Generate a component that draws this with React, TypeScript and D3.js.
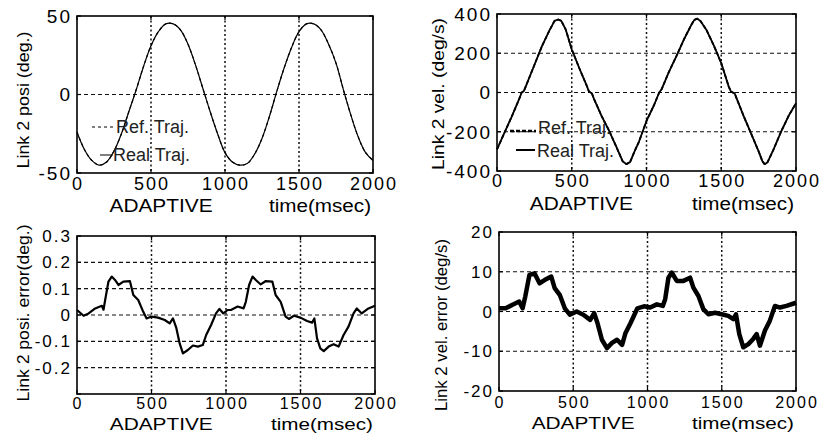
import React, { useEffect, useRef } from "react";
import * as d3 from "d3";

// time axis (msec)
const timeTicks = [0, 500, 1000, 1500, 2000];
const timeGrid = [500, 1000, 1500];

// link 2 position (deg.), [t, value]
const posTraj = [
  [0, -24], [50, -35], [100, -42], [150, -45], [200, -43], [250, -36], [300, -25], [350, -11],
  [400, 3], [450, 18], [500, 31], [550, 40], [600, 45], [650, 45], [700, 41], [750, 32],
  [800, 19], [850, 4], [900, -11], [950, -25], [1000, -37], [1050, -43], [1100, -45], [1150, -44],
  [1200, -38], [1250, -28], [1300, -14], [1350, 2], [1400, 17], [1450, 30], [1500, 40], [1550, 45],
  [1600, 45], [1650, 41], [1700, 32], [1750, 20], [1800, 3], [1850, -13], [1900, -27], [1950, -37],
  [2000, -42]
];

// link 2 velocity (deg/s)
const velTraj = [
  [0, -290], [50, -205], [100, -120], [150, -30], [165, 0], [180, 8], [200, 45], [250, 140],
  [300, 235], [350, 315], [385, 365], [410, 372], [430, 365], [460, 320], [500, 220], [550, 125],
  [600, 35], [615, 5], [635, -5], [650, -35], [700, -120], [750, -195], [800, -280], [840, -350],
  [865, -365], [890, -355], [920, -300], [950, -250], [1000, -145], [1050, -65], [1085, 0], [1100, 15],
  [1150, 105], [1200, 185], [1250, 270], [1300, 345], [1320, 370], [1340, 376], [1360, 365], [1400, 320],
  [1450, 240], [1500, 150], [1550, 30], [1565, 5], [1590, -5], [1600, -25], [1650, -120], [1700, -210],
  [1750, -300], [1775, -350], [1790, -365], [1810, -355], [1850, -290], [1900, -200], [1950, -120], [2000, -55]
];

// link 2 position error (deg.)
const posErr = [
  [0, 0.019], [44, -0.003], [78, 0.006], [122, 0.025], [167, 0.035], [178, 0.02], [189, 0.057], [211, 0.127],
  [233, 0.146], [255, 0.133], [278, 0.114], [311, 0.127], [355, 0.129], [378, 0.076], [411, 0.057], [444, 0.013],
  [467, -0.013], [500, -0.006], [544, -0.01], [589, -0.019], [622, -0.032], [644, -0.013], [667, -0.05], [689, -0.108],
  [711, -0.146], [744, -0.133], [778, -0.116], [811, -0.12], [844, -0.114], [867, -0.076], [900, -0.038], [933, 0.006],
  [956, 0.023], [982, 0.006], [1011, 0.019], [1033, 0.019], [1078, 0.032], [1118, 0.025], [1133, 0.05], [1155, 0.114],
  [1178, 0.146], [1200, 0.133], [1233, 0.116], [1267, 0.129], [1311, 0.127], [1333, 0.076], [1367, 0.05], [1400, -0.006],
  [1422, -0.015], [1456, -0.003], [1500, -0.01], [1544, -0.023], [1578, -0.029], [1593, -0.013], [1611, -0.089], [1633, -0.127],
  [1656, -0.137], [1689, -0.12], [1722, -0.111], [1756, -0.12], [1789, -0.076], [1822, -0.044], [1856, 0.006], [1878, 0.025],
  [1911, 0.006], [1956, 0.025], [2000, 0.035]
];

// link 2 velocity error (deg/s)
const velErr = [
  [0, 0.8], [45, 0.8], [91, 1.7], [136, 2.5], [159, 0.8], [177, 3.8], [205, 9.2], [239, 9.6],
  [273, 7.1], [307, 7.9], [352, 8.8], [375, 5.9], [409, 4.2], [443, 0.8], [477, -0.8], [523, 0],
  [568, -0.8], [614, -2.1], [641, -0.4], [663, -2.9], [693, -7.1], [727, -9.2], [761, -7.9], [795, -7.1],
  [829, -8.4], [852, -5.4], [886, -2.9], [932, 0.8], [977, 1.3], [1018, 1], [1063, 1.8], [1103, 1.4],
  [1119, 3.1], [1141, 8.5], [1164, 9.8], [1197, 7.7], [1242, 7.7], [1287, 8.5], [1309, 6], [1343, 3.9],
  [1376, 0.6], [1410, -0.7], [1455, -0.3], [1500, -0.7], [1544, -1.1], [1578, -1.9], [1596, -0.7], [1618, -5.7],
  [1645, -9], [1679, -8.2], [1712, -6.9], [1735, -5.7], [1757, -8.6], [1791, -4.8], [1824, -2.3], [1858, 1.4],
  [1892, 1], [1936, 1.4], [2000, 2.2]
];

const posTicks = [50, 0, -50];
const posTickLabels = ["50", "0", "-50"];
const velTicks = [400, 200, 0, -200, -400];
const velTickLabels = ["400", "200", "0", "-200", "-400"];
const posErrTicks = [0.3, 0.2, 0.1, 0, -0.1, -0.2, -0.3];
const posErrTickLabels = ["0.3", "0.2", "0.1", "0", "-0.1", "-0.2", ""];
const velErrTicks = [20, 10, 0, -10, -20];
const velErrTickLabels = ["20", "10", "0", "-10", "-20"];

const TICK_FONT = "'Liberation Sans', Arial, Helvetica, sans-serif";
const NARROW_FONT = "'Liberation Sans Narrow', 'Liberation Sans', Arial, sans-serif";

const panels = [
  {
    left: 77, right: 373, top: 16, bottom: 173, tickY: 190, labelY: 212, tickSize: 18, labelSize: 18,
    yDomain: [-50, 50], yTicks: posTicks, yTickLabels: posTickLabels, yGrid: [0],
    yLabel: "Link 2 posi  (deg.)", yLabelX: 29, yLabelY: 100, yLabelLen: 137,
    lines: [
      { data: posTraj, width: 1.2, dash: "3,3", smooth: true },
      { data: posTraj, width: 1.2, dash: null, smooth: true }
    ],
    legend: {
      ref: { x1: 92, x2: 113, y: 127, tx: 116, ty: 133, width: 1, dash: "3,3" },
      real: { x1: 100, x2: 113, y: 155, tx: 113, ty: 161, width: 1, dash: null }
    }
  },
  {
    left: 497, right: 796, top: 14, bottom: 171, tickY: 187, labelY: 210, tickSize: 18, labelSize: 18,
    yDomain: [-400, 400], yTicks: velTicks, yTickLabels: velTickLabels, yGrid: [200, 0, -200],
    yLabel: "Link 2 vel.  (deg/s)", yLabelX: 444, yLabelY: 94, yLabelLen: 152,
    lines: [
      { data: velTraj, width: 1.8, dash: "4,2", smooth: false },
      { data: velTraj, width: 1.8, dash: null, smooth: false }
    ],
    legend: {
      ref: { x1: 510, x2: 536, y: 131, tx: 538, ty: 134, width: 2.5, dash: "4,2" },
      real: { x1: 516, x2: 535, y: 150, tx: 537, ty: 157, width: 2, dash: null }
    }
  },
  {
    left: 77, right: 375, top: 236, bottom: 394, tickY: 409, labelY: 430, tickSize: 16, labelSize: 17,
    yDomain: [-0.3, 0.3], yTicks: posErrTicks, yTickLabels: posErrTickLabels, yGrid: [0.2, 0.1, 0, -0.1, -0.2],
    yLabel: "Link 2 posi. error(deg.)", yLabelX: 29, yLabelY: 313, yLabelLen: 177,
    lines: [{ data: posErr, width: 2.2, dash: null, smooth: false }],
    legend: null
  },
  {
    left: 499, right: 796, top: 232, bottom: 391, tickY: 408, labelY: 429, tickSize: 16, labelSize: 17,
    yDomain: [-20, 20], yTicks: velErrTicks, yTickLabels: velErrTickLabels, yGrid: [10, 0, -10],
    yLabel: "Link 2 vel. error (deg/s)", yLabelX: 447, yLabelY: 325, yLabelLen: 172,
    lines: [{ data: velErr, width: 4.5, dash: null, smooth: false }],
    legend: null
  }
];

function drawPanel(svg, p) {
  const x = d3.scaleLinear().domain([0, 2000]).range([p.left, p.right]);
  const y = d3.scaleLinear().domain(p.yDomain).range([p.bottom, p.top]);
  const g = svg.append("g");

  // grid
  g.selectAll("line.vgrid").data(timeGrid).join("line")
    .attr("class", "vgrid")
    .attr("x1", d => x(d)).attr("x2", d => x(d))
    .attr("y1", p.top).attr("y2", p.bottom)
    .attr("stroke", "#111").attr("stroke-width", 1.5).attr("stroke-dasharray", "2,2.5");
  g.selectAll("line.hgrid").data(p.yGrid).join("line")
    .attr("class", "hgrid")
    .attr("x1", p.left).attr("x2", p.right)
    .attr("y1", d => y(d)).attr("y2", d => y(d))
    .attr("stroke", "#111").attr("stroke-width", 1.1).attr("stroke-dasharray", "4,3");

  // traces
  p.lines.forEach(l => {
    const line = d3.line()
      .x(d => x(d[0]))
      .y(d => y(d[1]))
      .curve(l.smooth ? d3.curveCatmullRom : d3.curveLinear);
    g.append("path")
      .datum(l.data)
      .attr("fill", "none")
      .attr("stroke", "#000")
      .attr("stroke-width", l.width)
      .attr("stroke-linejoin", "round")
      .attr("stroke-dasharray", l.dash)
      .attr("d", line);
  });

  // box
  g.append("rect")
    .attr("x", p.left).attr("y", p.top)
    .attr("width", p.right - p.left).attr("height", p.bottom - p.top)
    .attr("fill", "none").attr("stroke", "#000").attr("stroke-width", 1.6);

  // inner ticks on all sides
  timeTicks.forEach(t => {
    g.append("line").attr("x1", x(t)).attr("x2", x(t)).attr("y1", p.bottom).attr("y2", p.bottom - 4)
      .attr("stroke", "#000").attr("stroke-width", 1.2);
    g.append("line").attr("x1", x(t)).attr("x2", x(t)).attr("y1", p.top).attr("y2", p.top + 4)
      .attr("stroke", "#000").attr("stroke-width", 1.2);
  });
  p.yTicks.forEach(v => {
    g.append("line").attr("x1", p.left).attr("x2", p.left + 4).attr("y1", y(v)).attr("y2", y(v))
      .attr("stroke", "#000").attr("stroke-width", 1.2);
    g.append("line").attr("x1", p.right).attr("x2", p.right - 4).attr("y1", y(v)).attr("y2", y(v))
      .attr("stroke", "#000").attr("stroke-width", 1.2);
  });

  // tick labels
  g.selectAll("text.xt").data(timeTicks).join("text")
    .attr("class", "xt")
    .attr("x", d => x(d) + 1)
    .attr("y", p.tickY)
    .attr("text-anchor", "middle")
    .attr("font-family", TICK_FONT).attr("font-size", p.tickSize).attr("letter-spacing", 2)
    .attr("fill", "#000")
    .text(d => String(d));
  g.selectAll("text.yt").data(p.yTicks).join("text")
    .attr("class", "yt")
    .attr("x", p.left - 5)
    .attr("y", d => y(d))
    .attr("dy", "0.36em")
    .attr("text-anchor", "end")
    .attr("font-family", TICK_FONT).attr("font-size", p.tickSize + 1).attr("letter-spacing", 2)
    .attr("fill", "#000")
    .text((d, i) => p.yTickLabels[i]);

  // x labels
  const xw = p.right - p.left;
  g.append("text")
    .attr("x", p.left + xw * 0.11).attr("y", p.labelY)
    .attr("font-family", TICK_FONT).attr("font-size", p.labelSize)
    .attr("textLength", 103).attr("lengthAdjust", "spacingAndGlyphs")
    .text("ADAPTIVE");
  g.append("text")
    .attr("x", p.right - 104).attr("y", p.labelY)
    .attr("font-family", TICK_FONT).attr("font-size", p.labelSize)
    .attr("textLength", 102).attr("lengthAdjust", "spacingAndGlyphs")
    .text("time(msec)");

  // y label
  g.append("text")
    .attr("transform", "translate(" + p.yLabelX + "," + p.yLabelY + ") rotate(-90)")
    .attr("text-anchor", "middle")
    .attr("font-family", NARROW_FONT).attr("font-size", 16)
    .attr("textLength", p.yLabelLen).attr("lengthAdjust", "spacingAndGlyphs")
    .text(p.yLabel);

  // legend
  if (p.legend) {
    const items = [[p.legend.ref, "Ref. Traj."], [p.legend.real, "Real Traj."]];
    items.forEach(([it, label]) => {
      g.append("line")
        .attr("x1", it.x1).attr("x2", it.x2).attr("y1", it.y).attr("y2", it.y)
        .attr("stroke", "#000").attr("stroke-width", it.width)
        .attr("stroke-dasharray", it.dash);
      g.append("text")
        .attr("x", it.tx).attr("y", it.ty)
        .attr("font-family", TICK_FONT).attr("font-size", 18)
        .attr("fill", "#222")
        .text(label);
    });
  }
}

export default function App() {
  const ref = useRef(null);

  useEffect(() => {
    const svg = d3.select(ref.current);
    svg.selectAll("*").remove();
    panels.forEach(p => drawPanel(svg, p));
  }, []);

  return (
    <svg
      ref={ref}
      width={821}
      height={435}
      style={{ position: "absolute", left: 0, top: 0, background: "#fff" }}
    />
  );
}
